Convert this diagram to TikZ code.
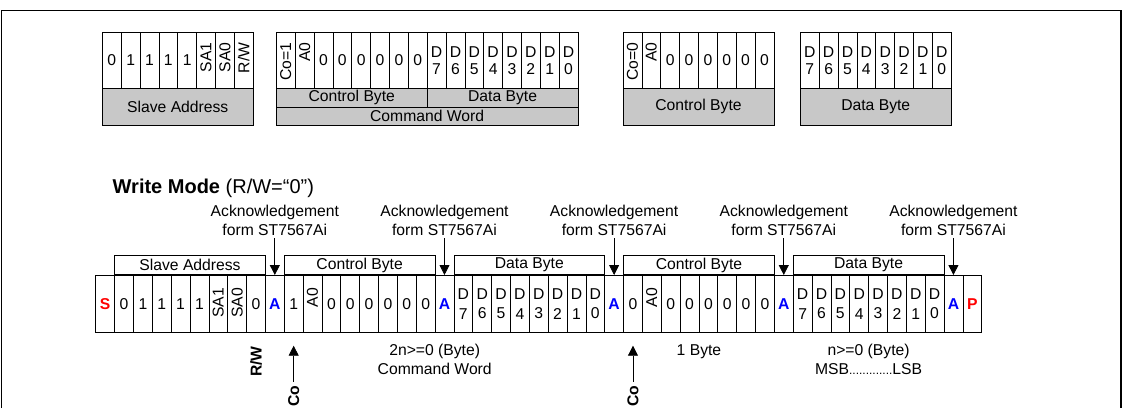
\documentclass[tikz,border=0pt]{standalone}
\usepackage{fontspec}
\setmainfont{Liberation Sans}
\usetikzlibrary{arrows.meta,calc}

\newcommand\ftxt{\fontsize{15.7}{18.7}\selectfont}
\newcommand\ftitle{\fontsize{20}{24}\selectfont}
\definecolor{cellgray}{RGB}{200,200,200}
\definecolor{ackblue}{RGB}{0,0,255}
\definecolor{flagred}{RGB}{255,0,0}
\def\cw{18.85}
\def\roff{10.5pt}
\def\dsep{17pt}

\tikzset{
  bitcell/.style={draw, line width=0.7pt, inner sep=0pt, minimum width=18.85pt,
    minimum height=#1, anchor=north west},
  graycell/.style={draw, line width=0.7pt, fill=cellgray, inner sep=0pt,
    anchor=north west, font=\ftxt},
  celltxt/.style={font=\ftxt, inner sep=0pt},
  rottxt/.style={font=\ftxt, inner sep=0pt, rotate=90, anchor=east},
  flagtxt/.style={font=\ftxt\bfseries, inner sep=0pt},
  bracket/.style={draw, line width=0.7pt, inner sep=0pt, anchor=south west,
    minimum width=150.8pt, minimum height=19pt, font=\ftxt},
  acklabel/.style={font=\ftxt, align=center, inner sep=0pt, anchor=south},
  note/.style={font=\fontsize{15.7}{19}\selectfont, align=center, inner sep=0pt, anchor=north},
  ackarrow/.style={line width=0.8pt, -{Triangle[width=10pt,length=10pt]}},
  frame/.style={line width=1.3pt},
}

% cell contents by kind
\def\putn#1#2{\node[celltxt] (#1-t) at (#1.center) {#2};}
\def\putd#1#2{\node[celltxt, align=center, font=\fontsize{15.7}{\dsep}\selectfont]
  (#1-t) at (#1.center) {D\\#2};}
\def\putr#1#2{\node[rottxt] (#1-t) at ([yshift=-\roff]#1.north) {#2};}
\def\puta#1#2{\node[flagtxt, text=ackblue] (#1-t) at (#1.center) {A};}
\def\puts#1#2{\node[flagtxt, text=flagred] (#1-t) at (#1.center) {S};}
\def\putp#1#2{\node[flagtxt, text=flagred] (#1-t) at (#1.center) {P};}

% a row of bit cells: prefix, left x, top y, height, kind/text items
\newcommand\bitrow[5]{%
  \foreach \k/\s [count=\i from 0] in {#5} {
    \node[bitcell=#4] (#1\i) at ({#2+\i*\cw}, #3) {};
    \csname put\k\endcsname{#1\i}{\s}
  }}

\begin{document}
\begin{tikzpicture}[x=1pt, y=-1pt]
\useasboundingbox (0,0) rectangle (1124,408);

% outer frame
\draw[frame] (1.5,408) -- (1.5,10.5) -- (1121,10.5) -- (1121,408);

% ---- format blocks ----
\bitrow{sa}{102}{32}{56pt}{n/0,n/1,n/1,n/1,n/1,r/SA1,r/SA0,r/{R/W}}
\node[graycell, minimum width=150.8pt, minimum height=37pt] (saname) at (102,88) {Slave Address};

\bitrow{cw}{276}{32}{56pt}{r/{Co=1},r/A0,n/0,n/0,n/0,n/0,n/0,n/0,d/7,d/6,d/5,d/4,d/3,d/2,d/1,d/0}
\node[graycell, minimum width=150.8pt, minimum height=18.7pt] (cwctrl) at (276,88) {Control Byte};
\node[graycell, minimum width=150.8pt, minimum height=18.7pt] (cwdata) at (426.8,88) {Data Byte};
\node[graycell, minimum width=301.6pt, minimum height=18.3pt] (cwname) at (276,106.7) {Command Word};

\bitrow{cb}{622.7}{32}{56pt}{r/{Co=0},r/A0,n/0,n/0,n/0,n/0,n/0,n/0}
\node[graycell, minimum width=150.8pt, minimum height=37pt] (cbname) at (622.7,88) {Control Byte};

\bitrow{db}{800}{32}{56pt}{d/7,d/6,d/5,d/4,d/3,d/2,d/1,d/0}
\node[graycell, minimum width=150.8pt, minimum height=37pt] (dbname) at (800,88) {Data Byte};

% ---- write mode sequence ----
\node[anchor=base west, inner sep=0pt, font=\ftitle] (title) at (112.5,193)
  {\textbf{Write Mode} (R/W=“0”)};

\def\roff{13pt}
\def\dsep{19.5pt}
\bitrow{bt}{95.4}{275}{57pt}{s/S,n/0,n/1,n/1,n/1,n/1,r/SA1,r/SA0,n/0,a/A,%
  n/1,r/A0,n/0,n/0,n/0,n/0,n/0,n/0,a/A,%
  d/7,d/6,d/5,d/4,d/3,d/2,d/1,d/0,a/A,%
  n/0,r/A0,n/0,n/0,n/0,n/0,n/0,n/0,a/A,%
  d/7,d/6,d/5,d/4,d/3,d/2,d/1,d/0,a/A,p/P}

% field brackets above the bits
\node[bracket] (br1) at (bt1.north west) {Slave Address};
\node[bracket] (br2) at (bt10.north west) {Control Byte};
\node[bracket] (br3) at (bt19.north west) {Data Byte};
\node[bracket] (br4) at (bt28.north west) {Control Byte};
\node[bracket] (br5) at (bt37.north west) {Data Byte};

% acknowledge arrows
\foreach \n/\c in {1/9, 2/18, 3/27, 4/36, 5/45} {
  \node[acklabel] (ack\n) at ([yshift=39pt]bt\c.north) {Acknowledgement\\form ST7567Ai};
  \draw[ackarrow, shorten <=2pt] (ack\n.south) -- (bt\c.north);
}

% notes under the sequence
\node[rottxt, anchor=center, font=\ftxt\bfseries] (rwlbl) at ([yshift=-29pt]bt8.south) {R/W};

\coordinate (cotip1) at ([yshift=-13pt]bt10.south);
\node[rottxt, font=\ftxt\bfseries] (co1) at ([yshift=-53pt]bt10.south) {Co};
\draw[ackarrow, shorten <=4pt] (co1.east) -- (cotip1);

\coordinate (cotip2) at ([yshift=-13pt]bt28.south);
\node[rottxt, font=\ftxt\bfseries] (co2) at ([yshift=-53pt]bt28.south) {Co};
\draw[ackarrow, shorten <=4pt] (co2.east) -- (cotip2);

\node[note] (cmdnote) at ([yshift=-11.5pt]bt18.south west) {2n>=0 (Byte)\\Command Word};
\node[note] (onenote) at ($(bt28.south west)!0.5!(bt35.south east)+(0,11.8)$) {1 Byte};
\node[note] (datnote) at ($(bt37.south west)!0.5!(bt44.south east)+(0,11.5)$)
  {n>=0 (Byte)\\MSB{\fontsize{12}{12}\selectfont.............}LSB};
\end{tikzpicture}
\end{document}
